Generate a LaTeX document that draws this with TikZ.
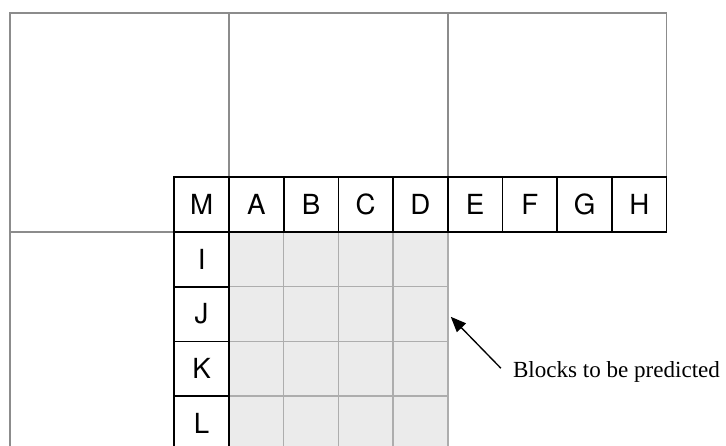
\documentclass[tikz,border=0pt]{standalone}
\usepackage{fontspec}
\setmainfont{Liberation Serif}
\setsansfont{TeX Gyre Heros}
\usetikzlibrary{arrows.meta}
\definecolor{framegray}{gray}{0.55}
\definecolor{blockfill}{gray}{0.92}
\definecolor{blockline}{gray}{0.68}
\tikzset{
  refcell/.style={draw=black, line width=0.9pt, minimum size=1cm, inner sep=0pt,
    font=\sffamily\fontsize{14.4}{17}\selectfont},
  predcell/.style={draw=blockline, fill=blockfill, line width=0.8pt, minimum size=1cm, inner sep=0pt},
}
\begin{document}
\begin{tikzpicture}
  \useasboundingbox (-0.186,-3.894) rectangle (13.086,4.241);
  \clip (-0.186,-3.894) rectangle (13.086,4.241);
  % large neighbouring blocks
  \draw[framegray, line width=0.8pt] (0,-4) -- (0,4) -- (12,4) -- (12,1);
  \draw[framegray, line width=0.8pt] (4,1) -- (4,4) (8,1) -- (8,4) (0,0) -- (3,0);
  % predicted blocks
  \foreach \r [count=\i] in {I,J,K,L}
    \foreach \c in {1,...,4}
      \node[predcell] (p\r\c) at (3.5+\c, 0.5-\i) {};
  % reference samples
  \node[refcell] (M) at (3.5, 0.5) {M};
  \foreach \t [count=\i] in {A,B,C,D,E,F,G,H}
    \node[refcell] (\t) at (3.5+\i, 0.5) {\t};
  \foreach \t [count=\i] in {I,J,K,L}
    \node[refcell] (\t) at (3.5, 0.5-\i) {\t};
  \node[font=\fontsize{12}{14}\selectfont, right, inner sep=1pt] (lbl) at (9.15,-2.56) {Blocks to be predicted};
  \coordinate (tip) at ([shift={(0.04,-0.05)}]pJ4.east);
  \draw[-{Triangle[length=8pt,width=6.5pt]}, line width=0.7pt] ([shift={(-0.18,0.07)}]lbl.west) -- (tip);
\end{tikzpicture}
\end{document}
